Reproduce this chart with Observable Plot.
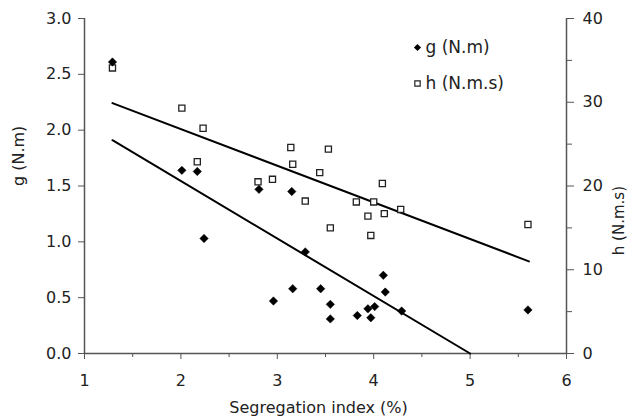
<!DOCTYPE html>
<html>
<head>
<meta charset="utf-8">
<script src="https://cdn.jsdelivr.net/npm/d3@7"></script>
<script src="https://cdn.jsdelivr.net/npm/@observablehq/plot@0.6"></script>
<style>
  html, body { margin: 0; padding: 0; background: #fff; }
</style>
</head>
<body>
<div id="chart"></div>
<script>
// g (N.m) — filled diamonds
const gX   = [1.29, 2.01, 2.17, 2.24, 2.81, 2.96, 3.15, 3.16, 3.29, 3.45, 3.55, 3.55, 3.83, 3.94, 3.97, 4.01, 4.10, 4.12, 4.29, 5.60];
const gVal = [2.61, 1.64, 1.63, 1.03, 1.47, 0.47, 1.45, 0.58, 0.91, 0.58, 0.44, 0.31, 0.34, 0.40, 0.32, 0.42, 0.70, 0.55, 0.38, 0.39];
// h (N.m.s) — open squares
const hX   = [1.29, 2.01, 2.17, 2.23, 2.80, 2.95, 3.14, 3.16, 3.29, 3.44, 3.53, 3.55, 3.82, 3.94, 3.97, 4.00, 4.09, 4.11, 4.28, 5.60];
const hVal = [34.1, 29.3, 22.9, 26.9, 20.5, 20.8, 24.6, 22.6, 18.2, 21.6, 24.4, 15.0, 18.1, 16.4, 14.1, 18.1, 20.3, 16.7, 17.2, 15.4];
// fitted lines (end points)
const gFitX = [1.29, 5.00];
const gFit  = [1.91, 0.00];
const hFitX = [1.29, 5.61];
const hFit  = [29.9, 11.0];
// axes
const xTicks  = [1, 2, 3, 4, 5, 6];
const xMinor  = [1.5, 2.5, 3.5, 4.5, 5.5];
const gTicks  = [0, 0.5, 1, 1.5, 2, 2.5, 3];
const hTicks  = [0, 10, 20, 30, 40];
const hMinor  = [5, 15, 25, 35];
const gMax = 3, hMax = 40;
const k = gMax / hMax; // h -> g scale factor
const xLabel = "Segregation index (%)";
const gLabel = "g (N.m)";
const hLabel = "h (N.m.s)";

const gData = gX.map((x, i) => ({x, v: gVal[i]}));
const hData = hX.map((x, i) => ({x, v: hVal[i] * k}));
const gLine = gFitX.map((x, i) => ({x, v: gFit[i]}));
const hLine = hFitX.map((x, i) => ({x, v: hFit[i] * k}));

const axisColor = "#555";
const chart = Plot.plot({
  width: 629, height: 419,
  marginLeft: 84, marginRight: 63, marginTop: 18, marginBottom: 66,
  x: {domain: [1, 6]},
  y: {domain: [0, gMax]},
  style: {fontFamily: "DejaVu Sans, sans-serif", fontSize: "16px", color: "#222", background: "#fff", overflow: "visible"},
  marks: [
    // x axis
    Plot.axisX(xTicks, {tickSize: 6, tickPadding: 15, stroke: axisColor, label: null, tickFormat: d => String(d)}),
    Plot.axisX(xMinor, {tickSize: 4, text: null, stroke: axisColor, label: null}),
    // left axis
    Plot.axisY(gTicks, {anchor: "left", tickSize: 6, tickPadding: 7, stroke: axisColor, label: null, tickFormat: d3.format(".1f")}),
    // right axis (h)
    Plot.axisY(hTicks.map(d => d * k), {anchor: "right", tickSize: 7, tickPadding: 9, stroke: axisColor, label: null, tickFormat: d => String(Math.round(d / k))}),
    Plot.axisY(hMinor.map(d => d * k), {anchor: "right", tickSize: 5, text: null, stroke: axisColor, label: null}),
    // axis lines
    Plot.ruleY([0], {stroke: axisColor, strokeWidth: 1.5}),
    Plot.ruleX([1], {stroke: axisColor, strokeWidth: 1.5}),
    Plot.ruleX([6], {stroke: axisColor, strokeWidth: 1.5}),
    // regression lines
    Plot.line(gLine, {x: "x", y: "v", stroke: "#000", strokeWidth: 2}),
    Plot.line(hLine, {x: "x", y: "v", stroke: "#000", strokeWidth: 2}),
    // points
    Plot.dot(hData, {x: "x", y: "v", symbol: "square2", r: 3.9, stroke: "#222", strokeWidth: 1.3, fill: "#fff"}),
    Plot.dot(gData, {x: "x", y: "v", symbol: "diamond2", r: 3.8, fill: "#000", stroke: "#000", strokeWidth: 0.5}),
    // axis titles
    Plot.text([xLabel], {frameAnchor: "bottom", lineAnchor: "middle", dx: -7, dy: 54, text: d => d, fontSize: 16, fill: "#222"}),
    Plot.text([gLabel], {frameAnchor: "left", lineAnchor: "middle", dx: -66, rotate: -90, text: d => d, fontSize: 16, fill: "#222"}),
    Plot.text([hLabel], {frameAnchor: "right", lineAnchor: "middle", dx: 53, rotate: -90, text: d => d, fontSize: 15, fill: "#222"}),
    // legend
    Plot.dot([0], {frameAnchor: "top-right", dx: -149, dy: 29, symbol: "diamond2", r: 3.2, fill: "#000"}),
    Plot.text([gLabel], {frameAnchor: "top-right", lineAnchor: "middle", dx: -141, dy: 29, textAnchor: "start", text: d => d, fontSize: 17, fill: "#222"}),
    Plot.dot([0], {frameAnchor: "top-right", dx: -149, dy: 65, symbol: "square2", r: 3.4, stroke: "#222", strokeWidth: 1.2, fill: "#fff"}),
    Plot.text([hLabel], {frameAnchor: "top-right", lineAnchor: "middle", dx: -141, dy: 65, textAnchor: "start", text: d => d, fontSize: 17, fill: "#222"})
  ]
});
document.getElementById("chart").appendChild(chart);
</script>
</body>
</html>
